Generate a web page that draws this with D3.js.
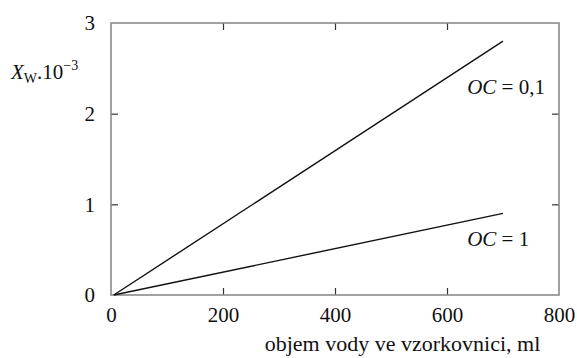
<!DOCTYPE html>
<html><head><meta charset="utf-8">
<script src="https://cdn.jsdelivr.net/npm/d3@7"></script>
<style>
body{margin:0;background:#fff}
svg{display:block}
</style>
</head><body>
<script>
// ---- data ----
const xTicks = [0, 200, 400, 600, 800];
const yTicks = [0, 1, 2, 3];
const xValues = [5, 700];
const seriesOC01 = [0, 2.8];
const seriesOC1 = [0, 0.9];
const seriesLabels = ["0,1", "1"];
const xTitle = "objem vody ve vzorkovnici, ml";

const W = 577, H = 358;
const m = {left: 111, right: 18, top: 23, bottom: 63};
const iw = W - m.left - m.right, ih = H - m.top - m.bottom;
const FONT = "'Liberation Serif', 'DejaVu Serif', serif";

const svg = d3.select("body").append("svg").attr("width", W).attr("height", H)
  .attr("font-family", FONT);
const g = svg.append("g").attr("transform", `translate(${m.left},${m.top})`);

const x = d3.scaleLinear().domain([0, 800]).range([0, iw]);
const y = d3.scaleLinear().domain([0, 3]).range([ih, 0]);

const TS = 7, FS = 21;
function styleAxis(sel, showLabels) {
  sel.attr("font-family", FONT);
  sel.select(".domain").remove();
  sel.selectAll(".tick line").attr("stroke", "#333").attr("stroke-width", 1.2);
  sel.selectAll(".tick text").style("font-size", FS + "px").style("font-family", FONT).attr("fill", "#111");
  if (!showLabels) sel.selectAll(".tick text").remove();
}
const innerX = xTicks.filter((d, i) => i > 0 && i < xTicks.length - 1);
const innerY = yTicks.filter((d, i) => i > 0 && i < yTicks.length - 1);

const gb = g.append("g").attr("transform", `translate(0,${ih})`)
  .call(d3.axisBottom(x).tickValues(xTicks).tickSize(0).tickPadding(12).tickFormat(d3.format("d")));
styleAxis(gb, true);
g.append("g").attr("transform", `translate(0,${ih})`)
  .call(d3.axisBottom(x).tickValues(innerX).tickSize(-TS).tickFormat(""))
  .call(s => styleAxis(s, false));
g.append("g")
  .call(d3.axisTop(x).tickValues(innerX).tickSize(-TS).tickFormat(""))
  .call(s => styleAxis(s, false));

const gl = g.append("g")
  .call(d3.axisLeft(y).tickValues(yTicks).tickSize(0).tickPadding(16).tickFormat(d3.format("d")));
styleAxis(gl, true);
g.append("g")
  .call(d3.axisLeft(y).tickValues(innerY).tickSize(-TS).tickFormat(""))
  .call(s => styleAxis(s, false));
g.append("g").attr("transform", `translate(${iw},0)`)
  .call(d3.axisRight(y).tickValues(innerY).tickSize(-TS).tickFormat(""))
  .call(s => styleAxis(s, false));

// frame
g.append("rect").attr("width", iw).attr("height", ih)
  .attr("fill", "none").attr("stroke", "#8a8a8a").attr("stroke-width", 1.6);

// lines
const line = d3.line().x(d => x(d[0])).y(d => y(d[1]));
[seriesOC01, seriesOC1].forEach(s => {
  g.append("path").datum(xValues.map((v, i) => [v, s[i]]))
    .attr("d", line).attr("fill", "none").attr("stroke", "#111").attr("stroke-width", 1.4);
});

// series labels
[[seriesOC01, seriesLabels[0], 53], [seriesOC1, seriesLabels[1], 33]].forEach(([s, lab, dy]) => {
  const t = g.append("text")
    .attr("x", x(636)).attr("y", y(s[s.length - 1]) + dy)
    .style("font-size", FS + "px").style("font-family", FONT).attr("fill", "#111");
  t.append("tspan").style("font-style", "italic").text("OC");
  t.append("tspan").text(" = " + lab);
});

// y title
const yt = svg.append("text").attr("x", 11).attr("y", 79)
  .style("font-size", FS + "px").style("font-family", FONT).attr("fill", "#111");
yt.append("tspan").style("font-style", "italic").text("X");
yt.append("tspan").attr("dy", 4).style("font-size", "14px").text("W");
yt.append("tspan").attr("dy", -4).text(".10");
yt.append("tspan").attr("dy", -9).style("font-size", "14px").text("−3");

// x title
svg.append("text").attr("x", 402.5).attr("y", 351).attr("text-anchor", "middle")
  .style("font-size", "22px").style("font-family", FONT).attr("fill", "#111").text(xTitle);
</script>
</body></html>
